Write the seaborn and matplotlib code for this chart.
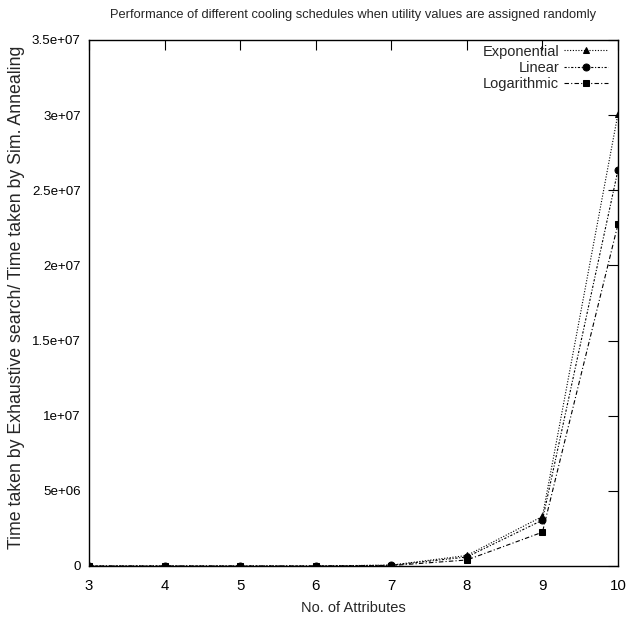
import numpy as np
import pandas as pd
import seaborn as sns
import matplotlib
matplotlib.use('Agg')
import matplotlib.pyplot as plt

# values
attributes = [3, 4, 5, 6, 7, 8, 9, 10]
exponential = [0, 0, 0, 0, 60000, 700000, 3300000, 30100000]
linear = [0, 0, 0, 0, 50000, 600000, 3050000, 26350000]
logarithmic = [0, 0, 0, 0, 30000, 400000, 2250000, 22750000]
schedules = ['Exponential', 'Linear', 'Logarithmic']

df = pd.DataFrame({
    'attr': attributes * 3,
    'ratio': exponential + linear + logarithmic,
    'schedule': np.repeat(schedules, len(attributes)),
})

sns.set_style('white')
plt.rcParams['font.family'] = ['Liberation Sans', 'DejaVu Sans']

fig = plt.figure(figsize=(6.26, 6.24), dpi=100)
ax = fig.add_axes([89/626, 1 - 566/624, (618-89)/626, (566-40)/624])

dashes = {'Exponential': (1, 1.5), 'Linear': (2, 1.5, 1, 1.5), 'Logarithmic': (4, 2, 1, 2)}
markers = {'Exponential': '^', 'Linear': 'o', 'Logarithmic': 's'}
sns.lineplot(data=df, x='attr', y='ratio', style='schedule', dashes=dashes,
             markers=markers, color='black', linewidth=0.8, markersize=5,
             markeredgecolor='black', ax=ax)

ax.set_xlim(3, 10)
ax.set_ylim(0, 3.5e7)
ax.set_xticks(attributes)
yt = np.arange(0, 3.5e7 + 1, 5e6)
ax.set_yticks(yt)
ax.set_yticklabels(['0', '5e+06', '1e+07', '1.5e+07', '2e+07', '2.5e+07', '3e+07', '3.5e+07'])
ax.tick_params(direction='in', length=7, width=0.8, top=True, right=True,
               labelsize=10.8, colors='black', pad=6)
ax.tick_params(axis='y', labelsize=9.6)
ax.tick_params(axis='x', pad=9)
for s in ax.spines.values():
    s.set_color('black')
    s.set_linewidth(1.0)

ax.set_xlabel('No. of Attributes', fontsize=10.5, labelpad=6)
ax.set_ylabel('Time taken by Exhaustive search/ Time taken by Sim. Annealing',
              fontsize=12.8)
ax.yaxis.set_label_coords(-64/529, 0.511)
ax.set_title('Performance of different cooling schedules when utility values are assigned randomly',
             fontsize=9.3, pad=16)

leg = ax.legend(loc='upper right', markerfirst=False, frameon=False, fontsize=10.5,
                handlelength=3.0, handletextpad=0.35, labelspacing=0.15,
                borderaxespad=0.2, bbox_to_anchor=(0.998, 1.008))
for t in leg.get_texts():
    t.set_ha('right')

fig.savefig('out.png', dpi=100)
